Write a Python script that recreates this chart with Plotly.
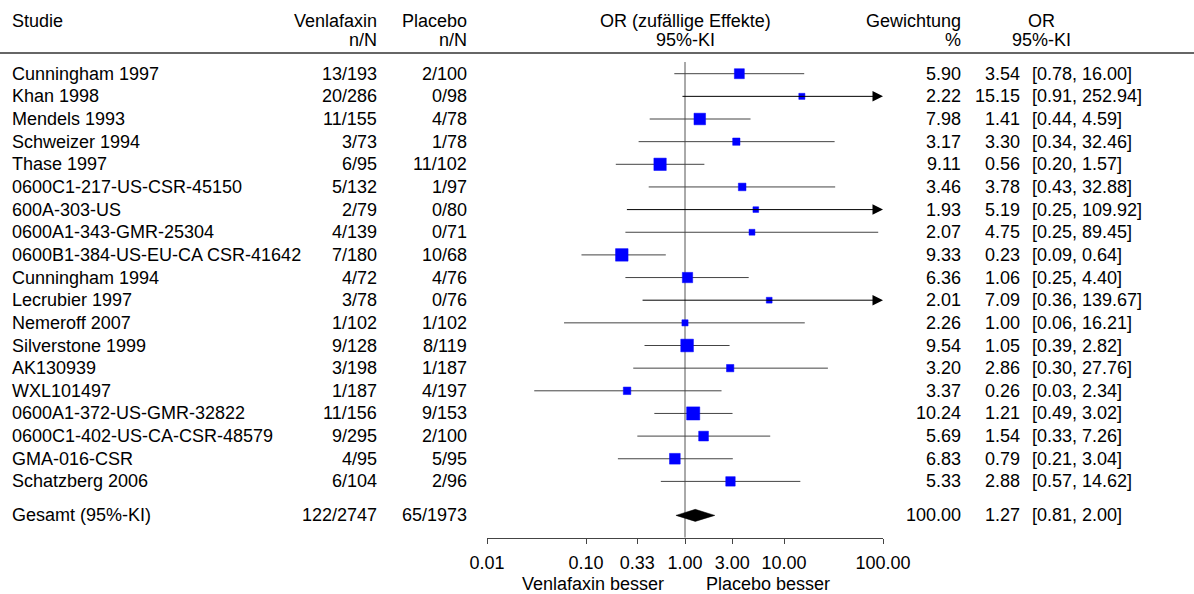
import math
import plotly.graph_objects as go

# ---------------------------------------------------------
# Daten
# ---------------------------------------------------------
studies = [
    "Cunningham 1997", "Khan 1998", "Mendels 1993", "Schweizer 1994", "Thase 1997",
    "0600C1-217-US-CSR-45150", "600A-303-US", "0600A1-343-GMR-25304",
    "0600B1-384-US-EU-CA CSR-41642", "Cunningham 1994", "Lecrubier 1997",
    "Nemeroff 2007", "Silverstone 1999", "AK130939", "WXL101497",
    "0600A1-372-US-GMR-32822", "0600C1-402-US-CA-CSR-48579", "GMA-016-CSR",
    "Schatzberg 2006",
]
venla_events = [13, 20, 11, 3, 6, 5, 2, 4, 7, 4, 3, 1, 9, 3, 1, 11, 9, 4, 6]
venla_total = [193, 286, 155, 73, 95, 132, 79, 139, 180, 72, 78, 102, 128, 198, 187, 156, 295, 95, 104]
placebo_events = [2, 0, 4, 1, 11, 1, 0, 0, 10, 4, 0, 1, 8, 1, 4, 9, 2, 5, 2]
placebo_total = [100, 98, 78, 78, 102, 97, 80, 71, 68, 76, 76, 102, 119, 187, 197, 153, 100, 95, 96]
weights = [5.90, 2.22, 7.98, 3.17, 9.11, 3.46, 1.93, 2.07, 9.33, 6.36, 2.01, 2.26, 9.54,
           3.20, 3.37, 10.24, 5.69, 6.83, 5.33]
odds = [3.54, 15.15, 1.41, 3.30, 0.56, 3.78, 5.19, 4.75, 0.23, 1.06, 7.09, 1.00, 1.05,
        2.86, 0.26, 1.21, 1.54, 0.79, 2.88]
ci_low = [0.78, 0.91, 0.44, 0.34, 0.20, 0.43, 0.25, 0.25, 0.09, 0.25, 0.36, 0.06, 0.39,
          0.30, 0.03, 0.49, 0.33, 0.21, 0.57]
ci_high = [16.00, 252.94, 4.59, 32.46, 1.57, 32.88, 109.92, 89.45, 0.64, 4.40, 139.67,
           16.21, 2.82, 27.76, 2.34, 3.02, 7.26, 3.04, 14.62]

total_label = "Gesamt (95%-KI)"
total_venla = (122, 2747)
total_placebo = (65, 1973)
total_weight = 100.00
total_or = 1.27
total_low = 0.81
total_high = 2.00

tick_vals = [0.01, 0.1, 0.33, 1, 3, 10, 100]
tick_text = ["0.01", "0.10", "0.33", "1.00", "3.00", "10.00", "100.00"]
x_min, x_max = 0.01, 100

# ---------------------------------------------------------
# Layout-Konstanten (Pixel)
# ---------------------------------------------------------
W, H = 1194, 594
ROW0 = 73.7      # y-Pixel der ersten Studie
ROW_H = 22.65    # Zeilenabstand
FONT = dict(family="Liberation Sans, Arial, sans-serif", size=18, color="black")


def row_of(py):
    return (py - ROW0) / ROW_H


def px(x):
    return x / W


n = len(studies)
rows = list(range(n))
total_row = n + 0.5
axis_row = row_of(537.5)

fig = go.Figure()

# Senkrechte Linie bei OR = 1
fig.add_trace(go.Scatter(
    x=[1, 1], y=[row_of(62), axis_row], mode="lines",
    line=dict(color="#555555", width=1), hoverinfo="skip", showlegend=False,
))

# Konfidenzintervalle (ohne Pfeile)
xl, yl = [], []
for i in rows:
    if ci_high[i] <= x_max:
        xl += [ci_low[i], ci_high[i], None]
        yl += [i, i, None]
fig.add_trace(go.Scatter(
    x=xl, y=yl, mode="lines", line=dict(color="#444444", width=1),
    hoverinfo="skip", showlegend=False,
))

annotations = []

# Intervalle über 100 -> Pfeil
for i in rows:
    if ci_high[i] > x_max:
        annotations.append(dict(
            x=math.log10(x_max), y=i, xref="x", yref="y",
            ax=math.log10(ci_low[i]), ay=i, axref="x", ayref="y",
            text="", showarrow=True, arrowhead=2, arrowsize=2.1,
            arrowwidth=1, arrowcolor="black",
        ))

# Punktschätzer
fig.add_trace(go.Scatter(
    x=odds, y=rows, mode="markers",
    marker=dict(symbol="square", color="rgb(0,0,255)", opacity=1,
                size=[4.1 * math.sqrt(w) for w in weights],
                line=dict(width=0.5, color="rgb(0,0,255)")),
    text=studies, hoverinfo="text+x", showlegend=False, cliponaxis=False,
))

# Gesamt-Raute
d = 6 / ROW_H
fig.add_trace(go.Scatter(
    x=[total_low, total_or, total_high, total_or, total_low],
    y=[total_row, total_row - d, total_row, total_row + d, total_row],
    mode="lines", fill="toself", fillcolor="black", line=dict(color="black", width=0.5),
    hoverinfo="skip", showlegend=False,
))


def txt(x, y, s, anchor, xref="paper"):
    annotations.append(dict(
        x=x, y=y, xref=xref, yref="y", text=s, showarrow=False,
        xanchor=anchor, yanchor="middle", font=FONT,
    ))


# Spalten
COL_STUDY = px(10)
COL_VENLA = px(379)
COL_PLAC = px(469)
COL_WEIGHT = px(963)
COL_OR = px(1022)
COL_CI = px(1030)
COL_ORHEAD = px(1041)

h1, h2 = row_of(21), row_of(40)
txt(COL_STUDY, h1, "Studie", "left")
txt(COL_VENLA, h1, "Venlafaxin", "right")
txt(COL_VENLA, h2, "n/N", "right")
txt(COL_PLAC, h1, "Placebo", "right")
txt(COL_PLAC, h2, "n/N", "right")
txt(0, h1, "OR (zufällige Effekte)", "center", xref="x")
txt(0, h2, "95%-KI", "center", xref="x")
txt(COL_WEIGHT, h1, "Gewichtung", "right")
txt(COL_WEIGHT, h2, "%", "right")
txt(COL_ORHEAD, h1, "OR", "center")
txt(COL_ORHEAD, h2, "95%-KI", "center")

for i in rows:
    txt(COL_STUDY, i, studies[i], "left")
    txt(COL_VENLA, i, f"{venla_events[i]}/{venla_total[i]}", "right")
    txt(COL_PLAC, i, f"{placebo_events[i]}/{placebo_total[i]}", "right")
    txt(COL_WEIGHT, i, f"{weights[i]:.2f}", "right")
    txt(COL_OR, i, f"{odds[i]:.2f}", "right")
    txt(COL_CI, i, f"[{ci_low[i]:.2f}, {ci_high[i]:.2f}]", "left")

txt(COL_STUDY, total_row, total_label, "left")
txt(COL_VENLA, total_row, f"{total_venla[0]}/{total_venla[1]}", "right")
txt(COL_PLAC, total_row, f"{total_placebo[0]}/{total_placebo[1]}", "right")
txt(COL_WEIGHT, total_row, f"{total_weight:.2f}", "right")
txt(COL_OR, total_row, f"{total_or:.2f}", "right")
txt(COL_CI, total_row, f"[{total_low:.2f}, {total_high:.2f}]", "left")

# Beschriftung unter der Achse
foot = row_of(584)
annotations.append(dict(x=0, y=foot, xref="x", yref="y", text="Venlafaxin besser",
                        showarrow=False, xanchor="right", yanchor="middle",
                        xshift=-19, font=FONT))
annotations.append(dict(x=0, y=foot, xref="x", yref="y", text="Placebo besser",
                        showarrow=False, xanchor="left", yanchor="middle",
                        xshift=19, font=FONT))

fig.update_layout(
    width=W, height=H,
    margin=dict(l=0, r=0, t=0, b=0, pad=0, autoexpand=False),
    paper_bgcolor="white", plot_bgcolor="white",
    showlegend=False,
    annotations=annotations,
    shapes=[dict(type="line", xref="paper", yref="y", x0=0, x1=1,
                 y0=row_of(53), y1=row_of(53), line=dict(color="#666666", width=2))],
    xaxis=dict(
        type="log", range=[math.log10(x_min), math.log10(x_max)],
        domain=[px(487), px(883)], anchor="free", position=1 - 537.5 / H,
        showline=True, linecolor="#444444", linewidth=1,
        ticks="outside", ticklen=5, tickcolor="#444444",
        tickvals=tick_vals, ticktext=tick_text, tickfont=FONT,
        ticklabelstandoff=4,
        showgrid=False, zeroline=False, automargin=False,
    ),
    yaxis=dict(range=[row_of(H), row_of(0)], visible=False, showgrid=False,
               zeroline=False, automargin=False),
)

fig.write_html("out.html", config={"displayModeBar": False},
               post_script="document.body.style.margin='0';")
